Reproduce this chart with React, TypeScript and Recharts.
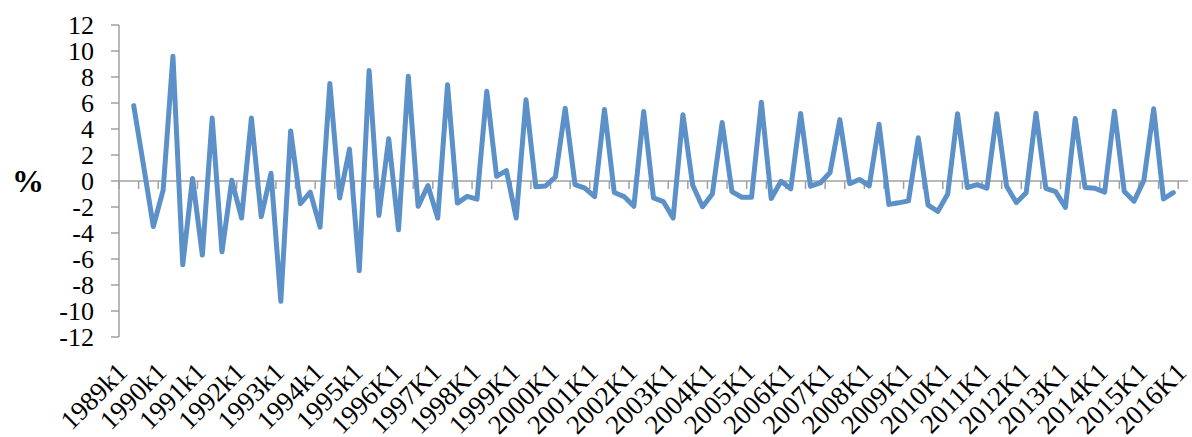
import React from 'react';
import { LineChart, Line, XAxis, YAxis, ReferenceLine } from 'recharts';

// Tick labels, one per year (first quarter of each year)
const xTickLabels: string[] = [
  '1989k1', '1990k1', '1991k1', '1992k1', '1993k1', '1994k1', '1995k1',
  '1996K1', '1997K1', '1998K1', '1999K1', '2000K1', '2001K1', '2002K1',
  '2003K1', '2004K1', '2005K1', '2006K1', '2007K1', '2008K1', '2009K1',
  '2010K1', '2011K1', '2012K1', '2013K1', '2014K1', '2015K1', '2016K1',
];

// Quarterly change, %, from 1989 Q2 to 2015 Q4
const values: number[] = [
  5.8, 1.2, -3.5, -0.7, 9.6, -6.45, 0.2, -5.7, 4.85, -5.45,
  0.05, -2.85, 4.85, -2.75, 0.6, -9.25, 3.85, -1.75, -0.85, -3.55,
  7.5, -1.3, 2.45, -6.9, 8.5, -2.65, 3.25, -3.75, 8.05, -1.95,
  -0.35, -2.85, 7.4, -1.7, -1.18, -1.4, 6.9, 0.36, 0.8, -2.85,
  6.25, -0.45, -0.38, 0.31, 5.6, -0.28, -0.55, -1.2, 5.5, -0.88,
  -1.2, -1.95, 5.35, -1.3, -1.58, -2.85, 5.1, -0.33, -1.98, -1.0,
  4.5, -0.82, -1.25, -1.25, 6.05, -1.35, -0.02, -0.6, 5.2, -0.4,
  -0.15, 0.65, 4.72, -0.2, 0.12, -0.38, 4.36, -1.8, -1.68, -1.53,
  3.32, -1.85, -2.33, -1.0, 5.18, -0.5, -0.28, -0.55, 5.18, -0.4,
  -1.66, -0.9, 5.22, -0.56, -0.82, -2.03, 4.8, -0.5, -0.56, -0.86,
  5.36, -0.8, -1.55, 0.05, 5.56, -1.38, -0.9,
];

const yTicks: number[] = [-12, -10, -8, -6, -4, -2, 0, 2, 4, 6, 8, 10, 12];

const quartersPerYear = 4;
const firstDataQuarter = 1; // data begins in the 2nd quarter of 1989
const quarterCount = xTickLabels.length * quartersPerYear - 3; // 1989Q1 .. 2016Q1

const data = values.map((v, i) => ({ pos: firstDataQuarter + i + 0.5, v }));
const labelPositions = xTickLabels.map((_, k) => k * quartersPerYear + 0.5);
const boundaryTicks: number[] = [];
for (let b = 0; b < quarterCount; b += 2) boundaryTicks.push(b);

const AXIS_COLOR = '#a0a0a0';
const LINE_COLOR = '#5b90c8';
const FONT = '"Liberation Serif", "Times New Roman", serif';

const XTick = (props: any) => {
  const { x, y, index } = props;
  const ax = x + 5;
  const ay = y + 37;
  return (
    <text
      x={ax}
      y={ay}
      textAnchor="end"
      transform={`rotate(-45 ${ax} ${ay})`}
      style={{ fontFamily: FONT, fontSize: 27 }}
      fill="#000"
    >
      {xTickLabels[index]}
    </text>
  );
};

export default function App() {
  return (
    <div style={{ position: 'absolute', left: 0, top: 0, width: 1192, height: 437, background: '#fff' }}>
      <LineChart
        width={1192}
        height={437}
        data={data}
        margin={{ top: 25, right: 4, bottom: 0, left: 0 }}
        style={{ fontFamily: FONT }}
      >
        <XAxis
          type="number"
          dataKey="pos"
          domain={[0, quarterCount]}
          ticks={labelPositions}
          interval={0}
          axisLine={false}
          tickLine={false}
          tickSize={0}
          tickMargin={0}
          height={100}
          tick={<XTick />}
          allowDataOverflow
        />
        <YAxis
          type="number"
          domain={[-12, 12]}
          ticks={yTicks}
          interval={0}
          width={119}
          tickSize={8}
          tickMargin={17}
          axisLine={{ stroke: AXIS_COLOR, strokeWidth: 1.5 }}
          tickLine={{ stroke: AXIS_COLOR, strokeWidth: 1.5 }}
          tick={{ fill: '#000', fontSize: 26, fontFamily: FONT }}
          label={{
            value: '%',
            position: 'insideLeft',
            offset: 12,
            style: { fontSize: 32, fontWeight: 'bold', fill: '#000', fontFamily: FONT },
          }}
        />
        <ReferenceLine y={0} stroke={AXIS_COLOR} strokeWidth={1.5} />
        {boundaryTicks.map((b) => (
          <ReferenceLine
            key={b}
            segment={[{ x: b, y: 0 }, { x: b, y: -0.62 }]}
            stroke={AXIS_COLOR}
            strokeWidth={1.5}
            ifOverflow="visible"
          />
        ))}
        <Line
          type="linear"
          dataKey="v"
          stroke={LINE_COLOR}
          strokeWidth={5}
          strokeLinejoin="round"
          strokeLinecap="round"
          dot={false}
          activeDot={false}
          isAnimationActive={false}
        />
      </LineChart>
    </div>
  );
}
